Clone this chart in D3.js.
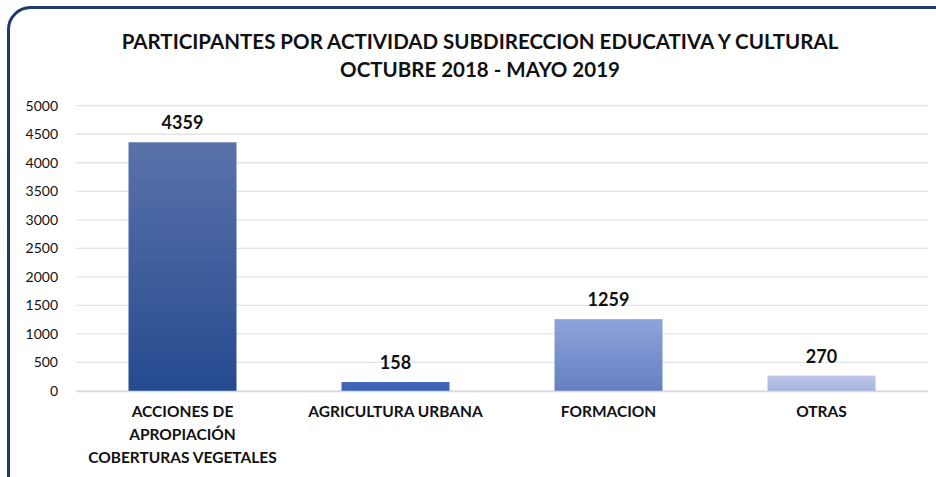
<!DOCTYPE html>
<html>
<head>
<meta charset="utf-8">
<script src="https://cdn.jsdelivr.net/npm/d3@7"></script>
<style>
  html, body { margin: 0; padding: 0; background: #ffffff; }
  svg { display: block; }
</style>
</head>
<body>
<svg id="chart" width="936" height="477"></svg>
<script>
// ---- data ----
const titleLines = ["PARTICIPANTES POR ACTIVIDAD SUBDIRECCION EDUCATIVA Y CULTURAL", "OCTUBRE 2018 - MAYO 2019"];
const categories = ["ACCIONES DE APROPIACIÓN COBERTURAS VEGETALES", "AGRICULTURA URBANA", "FORMACION", "OTRAS"];
const categoryLines = [["ACCIONES DE", "APROPIACIÓN", "COBERTURAS VEGETALES"], ["AGRICULTURA URBANA"], ["FORMACION"], ["OTRAS"]];
const values = [4359, 158, 1259, 270];
const yTicks = [0, 500, 1000, 1500, 2000, 2500, 3000, 3500, 4000, 4500, 5000];
// bar gradient colours (top, bottom)
const barTop = ["#5A72AA", "#4468BA", "#8EA3D9", "#BDC7E7"];
const barBottom = ["#254A90", "#3A60B4", "#6580C3", "#A6B4DE"];

const svg = d3.select("#chart");
const font = "Lato, 'Open Sans', sans-serif";

// border
svg.append("rect")
  .attr("x", 8.5).attr("y", 7.5)
  .attr("width", 960).attr("height", 500)
  .attr("rx", 22).attr("ry", 22)
  .attr("fill", "#ffffff")
  .attr("stroke", "#1F3A6B").attr("stroke-width", 3);

// title
const title = svg.append("text")
  .attr("text-anchor", "middle")
  .attr("font-family", font)
  .attr("font-weight", "bold")
  .attr("font-size", 20.5)
  .attr("fill", "#111111");
titleLines.forEach((t, i) => {
  title.append("tspan").attr("x", 480).attr("y", 49 + i * 28).text(t);
});

const x = d3.scaleBand().domain(categories).range([76, 928]).paddingInner(0.493).paddingOuter(0.2465);
const y = d3.scaleLinear().domain([0, 5000]).range([391, 105.7]);

// gradients
const defs = svg.append("defs");
categories.forEach((c, i) => {
  const g = defs.append("linearGradient").attr("id", "g" + i)
    .attr("x1", 0).attr("y1", 0).attr("x2", 0).attr("y2", 1);
  g.append("stop").attr("offset", "0%").attr("stop-color", barTop[i]);
  g.append("stop").attr("offset", "100%").attr("stop-color", barBottom[i]);
});

// y axis labels
const yAxis = d3.axisLeft(y).tickValues(yTicks).tickSize(0).tickPadding(18).tickFormat(d3.format("d"));
const gy = svg.append("g").attr("transform", "translate(76,0)").call(yAxis);
gy.select(".domain").remove();
gy.selectAll("text").attr("font-family", font).attr("font-size", 14).attr("fill", "#111111");

// gridlines
svg.append("g").selectAll("line").data(yTicks).join("line")
  .attr("x1", 76).attr("x2", 928)
  .attr("y1", d => y(d)).attr("y2", d => y(d))
  .attr("stroke", "#E1E4EA").attr("stroke-width", 1.3);

// bars
svg.append("g").selectAll("rect").data(values).join("rect")
  .attr("x", (d, i) => x(categories[i]))
  .attr("width", x.bandwidth())
  .attr("y", d => y(d))
  .attr("height", d => y(0) - y(d))
  .attr("fill", (d, i) => `url(#g${i})`);

// baseline over bars
svg.append("line").attr("x1", 76).attr("x2", 928).attr("y1", y(0) + 0.5).attr("y2", y(0) + 0.5)
  .attr("stroke", "#D6DAE3").attr("stroke-width", 1.5);

// value labels
svg.append("g").selectAll("text").data(values).join("text")
  .attr("x", (d, i) => x(categories[i]) + x.bandwidth() / 2)
  .attr("y", d => y(d) - 13)
  .attr("text-anchor", "middle")
  .attr("font-family", font).attr("font-weight", "bold").attr("font-size", 18)
  .attr("fill", "#111111")
  .text(d => d);

// category labels
const xl = svg.append("g").selectAll("text").data(categories).join("text")
  .attr("text-anchor", "middle")
  .attr("font-family", font).attr("font-weight", "bold").attr("font-size", 15.5)
  .attr("fill", "#111111");
xl.each(function(c, i) {
  const t = d3.select(this);
  categoryLines[i].forEach((ln, j) => {
    t.append("tspan").attr("x", x(c) + x.bandwidth() / 2).attr("y", 417 + j * 23).text(ln);
  });
});
</script>
</body>
</html>
